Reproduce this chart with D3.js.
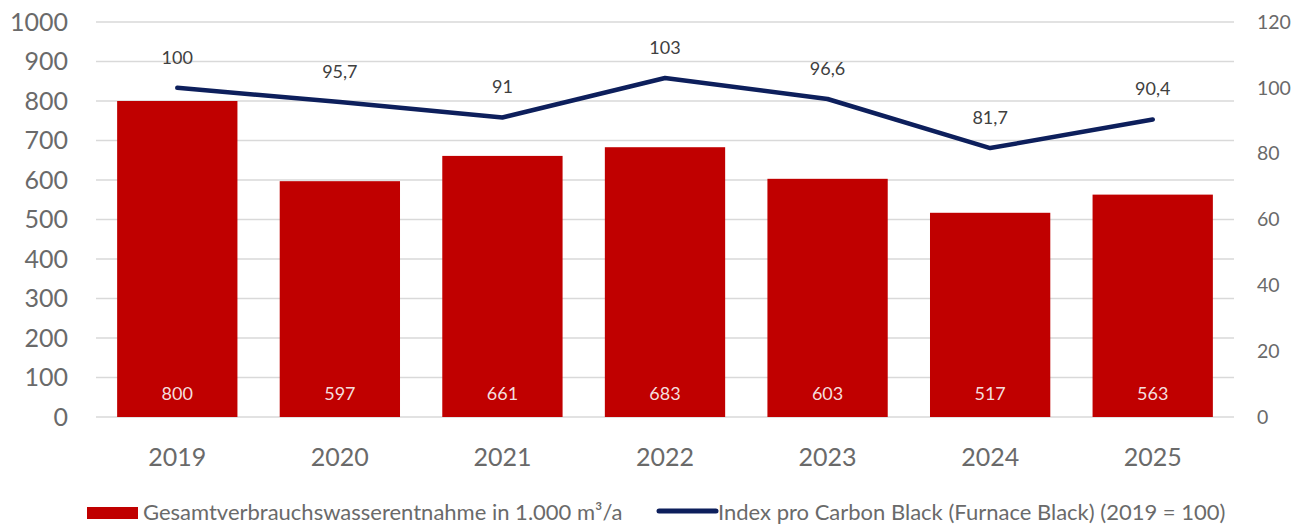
<!DOCTYPE html>
<html><head><meta charset="utf-8">
<script src="https://cdn.jsdelivr.net/npm/d3@7"></script>
<style>body{margin:0;background:#fff;} text{font-family:Lato, "Open Sans", sans-serif;}</style>
</head><body>
<svg id="c" width="1300" height="524"></svg>
<script>
const years = ["2019","2020","2021","2022","2023","2024","2025"];
const water = [800,597,661,683,603,517,563];
const index = [100,95.7,91,103,96.6,81.7,90.4];
const indexLabels = ["100","95,7","91","103","96,6","81,7","90,4"];
const leftTicks = [0,100,200,300,400,500,600,700,800,900,1000];
const rightTicks = [0,20,40,60,80,100,120];
const seriesNames = ["Gesamtverbrauchswasserentnahme in 1.000 m³/a","Index pro Carbon Black (Furnace Black) (2019 = 100)"];

const svg = d3.select("#c");
const L=96, R=1234, T=22, B=417;
const x = d3.scaleBand().domain(years).range([L,R]).paddingInner(0.26).paddingOuter(0.13);
const yL = d3.scaleLinear().domain([0,1000]).range([B,T]);
const yR = d3.scaleLinear().domain([0,120]).range([B,T]);
const tickCol = "#6a6a6a";

// grid
svg.append("g").selectAll("line").data(leftTicks).join("line")
  .attr("x1",L).attr("x2",R).attr("y1",d=>yL(d)).attr("y2",d=>yL(d))
  .attr("stroke","#d9d9d9").attr("stroke-width",1.5);

// left axis
const gl = svg.append("g").attr("transform",`translate(${L},0)`)
  .call(d3.axisLeft(yL).tickValues(leftTicks).tickFormat(d3.format("d")).tickSize(0).tickPadding(28));
gl.select(".domain").remove();
gl.selectAll("text").attr("font-size",25).attr("fill",tickCol).attr("font-family","Lato");

// right axis
const gr = svg.append("g").attr("transform",`translate(${R},0)`)
  .call(d3.axisRight(yR).tickValues(rightTicks).tickSize(0).tickPadding(23));
gr.select(".domain").remove();
gr.selectAll("text").attr("font-size",19.5).attr("fill",tickCol).attr("font-family","Lato");

// x axis
const gx = svg.append("g").attr("transform",`translate(0,${B})`)
  .call(d3.axisBottom(x).tickSize(0));
gx.select(".domain").remove();
gx.selectAll("text").attr("y",49).attr("dy",null).attr("font-size",25).attr("fill",tickCol).attr("font-family","Lato");

// bars
svg.append("g").selectAll("rect").data(water).join("rect")
  .attr("x",(d,i)=>x(years[i])).attr("width",x.bandwidth())
  .attr("y",d=>yL(d)).attr("height",d=>B-yL(d)).attr("fill","#C00000");
svg.append("g").selectAll("text").data(water).join("text")
  .attr("x",(d,i)=>x(years[i])+x.bandwidth()/2).attr("y",B-17)
  .attr("text-anchor","middle").attr("font-size",18).attr("fill","#f4dede")
  .text(d=>d);

// line
const cx = i => x(years[i])+x.bandwidth()/2;
svg.append("path").datum(index)
  .attr("d", d3.line().x((d,i)=>cx(i)).y(d=>yR(d)))
  .attr("fill","none").attr("stroke","#0d1f5c").attr("stroke-width",4.5)
  .attr("stroke-linecap","round").attr("stroke-linejoin","round");
svg.append("g").selectAll("text").data(index).join("text")
  .attr("x",(d,i)=>cx(i)).attr("y",d=>yR(d)-24)
  .attr("text-anchor","middle").attr("font-size",18).attr("fill","#404040")
  .text((d,i)=>indexLabels[i]);

// legend
const lg = svg.append("g");
lg.append("rect").attr("x",87).attr("y",507).attr("width",51).attr("height",12).attr("fill","#C00000");
lg.append("text").attr("x",143).attr("y",520).attr("font-size",22).attr("fill",tickCol).text(seriesNames[0]);
lg.append("line").attr("x1",659).attr("x2",716).attr("y1",511).attr("y2",511)
  .attr("stroke","#0d1f5c").attr("stroke-width",5).attr("stroke-linecap","round");
lg.append("text").attr("x",718).attr("y",520).attr("font-size",22).attr("fill",tickCol).text(seriesNames[1]);
</script>
</body></html>
